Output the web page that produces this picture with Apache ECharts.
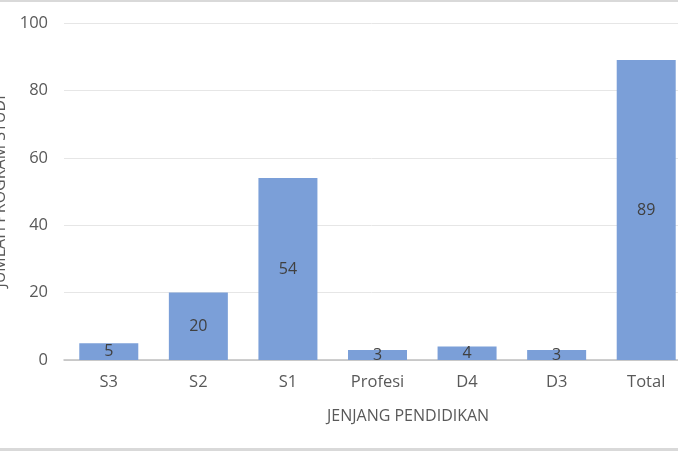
<html>
<head>
<meta charset="utf-8">
<title>Jumlah Program Studi</title>
<script src="https://cdn.jsdelivr.net/npm/echarts@6/dist/echarts.min.js"></script>
<style>
	body { margin: 0; background: #fff; }
	#container { width: 678px; height: 452px; }
</style>
</head>
<body>
	<div id="container"></div>
	<script type="text/javascript">
		// data
		var jenjang = ['S3', 'S2', 'S1', 'Profesi', 'D4', 'D3', 'Total'];
		var jumlah = [5, 20, 54, 3, 4, 3, 89];
		var yTicks = [0, 20, 40, 60, 80, 100];

		var dom = document.getElementById("container");
		var myChart = echarts.init(dom);
		var font = "'Open Sans', 'Noto Sans', sans-serif";
		var option = {
		  animation: false,
		  title: {
		    text: 'JENJANG PENDIDIKAN',
		    left: 322,
		    top: 403,
		    textStyle: { fontFamily: font, fontSize: 16, fontWeight: 'normal', color: '#595959' }
		  },
		  graphic: [
		    { type: 'rect', shape: { x: 0, y: 0, width: 678, height: 2 }, style: { fill: '#d9d9d9' } },
		    { type: 'rect', shape: { x: 0, y: 448, width: 678, height: 3 }, style: { fill: '#d9d9d9' } }
		  ],
		  grid: { left: 64, top: 23, width: 627, height: 337, outerBoundsMode: 'none', containLabel: false },
		  xAxis: {
		    type: 'category',
		    data: jenjang,
		    axisTick: { show: false },
		    axisLine: { lineStyle: { color: '#bfbfbf', width: 1.5 } },
		    axisLabel: { margin: 14, fontFamily: font, fontSize: 16.5, color: '#595959' }
		  },
		  yAxis: {
		    type: 'value',
		    min: yTicks[0],
		    max: yTicks[yTicks.length - 1],
		    interval: 20,
		    name: 'JUMLAH PROGRAM STUDI',
		    nameLocation: 'middle',
		    nameGap: 55,
		    nameRotate: 90,
		    nameTextStyle: { fontFamily: font, fontSize: 16, color: '#595959' },
		    axisLine: { show: false },
		    axisTick: { show: false },
		    axisLabel: { margin: 16, fontFamily: font, fontSize: 16.5, color: '#595959' },
		    splitLine: { lineStyle: { color: '#e6e6e6', width: 1 } }
		  },
		  series: [
		    {
		      type: 'bar',
		      data: jumlah,
		      barWidth: 59,
		      itemStyle: { color: '#7b9fd8' },
		      label: {
		        show: true,
		        position: 'inside',
		        fontFamily: font,
		        fontSize: 16,
		        color: '#404040'
		      }
		    }
		  ]
		};
		if (option && typeof option === 'object') {
			myChart.setOption(option);
		}
	</script>
</body>
</html>
